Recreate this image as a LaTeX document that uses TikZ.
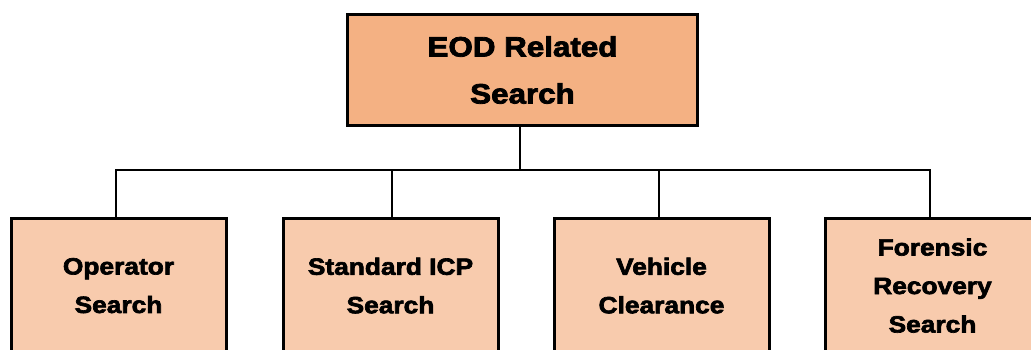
\documentclass[tikz,border=0pt]{standalone}
\usepackage{fontspec}
\newfontfamily\boxfont{Liberation Sans}[UprightFont={* Bold}, UprightFeatures={FakeBold=2.8, FakeStretch=1.12}]
\definecolor{topfill}{HTML}{F4B183}
\definecolor{subfill}{HTML}{F8CBAD}
\tikzset{
  x=1pt, y=1pt,
  headbox/.style={draw=black, line width=3pt, fill=topfill, minimum width=350pt, minimum height=111pt,
    align=center, inner sep=0pt, font=\boxfont\fontsize{28}{47}\selectfont},
  subbox/.style={draw=black, line width=3pt, fill=subfill, minimum width=215pt, minimum height=136pt,
    align=center, inner sep=0pt, text depth=2pt, font=\boxfont\fontsize{23.5}{38.5}\selectfont},
  link/.style={draw=black, line width=2pt}
}
\begin{document}
\begin{tikzpicture}
\useasboundingbox (0,0) rectangle (1031,-349);
\clip (0,0) rectangle (1031,-349);
% top of the hierarchy
\node[headbox] (top) at (522.5,-70) {EOD Related\\Search};
% junction line
\coordinate (bus) at (520,-170);
% second level
\node[subbox, anchor=north west] (op) at (9.5,-217) {Operator\\Search};
\node[subbox, anchor=north west] (icp) at (281.5,-217) {Standard ICP\\Search};
\node[subbox, anchor=north west] (veh) at (552.5,-217) {Vehicle\\Clearance};
\node[subbox, anchor=north west] (for) at (823.5,-217) {Forensic\\Recovery\\Search};
% connectors
\draw[link] (top.south -| bus) -- (bus);
\draw[link] (op.north -| 116,0) |- (bus) -| (for.north -| 930,0);
\draw[link] (icp.north -| 392,0) -- (392,-170);
\draw[link] (veh.north -| 659,0) -- (659,-170);
\end{tikzpicture}
\end{document}
